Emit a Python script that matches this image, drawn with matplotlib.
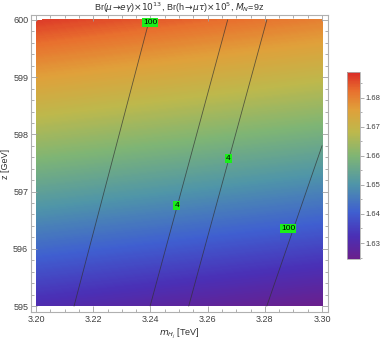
import numpy as np
import matplotlib
matplotlib.use("Agg")
import matplotlib.pyplot as plt
from matplotlib.colors import LinearSegmentedColormap, Normalize
from matplotlib.ticker import MultipleLocator
import matplotlib.cm as cm

# field values read at the corners of the plot region
m_edges = [3.20, 3.30]
z_edges = [595.0, 600.0]
ratio = np.array([[1.631, 1.6245],
                  [1.687, 1.680]])

# contour lines (start / end points)
line_start_m = [3.2133, 3.2399, 3.2534, 3.2807]
line_start_z = [595.0, 595.0, 595.0, 595.0]
line_end_m = [3.2396, 3.2670, 3.2807, 3.3000]
line_end_z = [600.0, 600.0, 600.0, 597.8]

label_text = ["100", "4", "4", "100"]
label_m = [3.2399, 3.2492, 3.2672, 3.2882]
label_z = [599.95, 596.75, 597.58, 596.36]

vmin, vmax = 1.6245, 1.6888

rainbow = LinearSegmentedColormap.from_list("mma_rainbow", [
    (0.00, "#6a1f8c"),
    (0.12, "#4a2fb5"),
    (0.25, "#3f5fd0"),
    (0.40, "#4f95a8"),
    (0.55, "#7fb574"),
    (0.68, "#bdb84c"),
    (0.80, "#e0a03a"),
    (0.90, "#e8702e"),
    (1.00, "#da2a26"),
])

plt.rcParams['font.family'] = ['Liberation Sans', 'DejaVu Sans']
plt.rcParams['mathtext.fontset'] = 'dejavusans'

fig = plt.figure(figsize=(3.82, 3.42), dpi=100)
ax = fig.add_axes([0.0812, 0.0877, 0.7775, 0.8684])

M, Z = np.meshgrid(m_edges, z_edges)
levels = np.linspace(vmin, vmax, 300)
ax.contourf(M, Z, ratio, levels=levels, cmap=rainbow, vmin=vmin, vmax=vmax)

for i in range(len(line_start_m)):
    ax.plot([line_start_m[i], line_end_m[i]], [line_start_z[i], line_end_z[i]],
            color='#303030', lw=0.6, alpha=0.7)

for t, xm, zz in zip(label_text, label_m, label_z):
    ax.text(xm, zz, t, fontsize=6, ha='center', va='center', color='black',
            bbox=dict(boxstyle='square,pad=0.12', fc='#1aee1a', ec='none'))

ax.set_xlim(3.19825, 3.3021)
ax.set_ylim(594.895, 600.087)
ax.yaxis.set_major_locator(MultipleLocator(1))
ax.yaxis.set_minor_locator(MultipleLocator(0.2))
ax.set_xticks([3.20, 3.22, 3.24, 3.26, 3.28, 3.30])
ax.set_xticklabels(["3.20", "3.22", "3.24", "3.26", "3.28", "3.30"])
ax.xaxis.set_minor_locator(MultipleLocator(0.005))
ax.tick_params(which='both', direction='in', top=True, right=True,
               colors='#a0a0a0', labelcolor='#404040', labelsize=6.5, width=0.6)
ax.tick_params(which='major', length=4, pad=2)
ax.tick_params(which='minor', length=2)
for s in ax.spines.values():
    s.set_color('#b0b0b0')
    s.set_linewidth(0.8)

ax.set_xlabel(r'$m_{H_j}$ [TeV]', fontsize=6.5, color='#303030', labelpad=2)
ax.set_ylabel('z [GeV]', fontsize=6.5, color='#303030', labelpad=2)
ax.set_title(r'Br($\mu\!\to\!e\gamma$)$\times10^{13}$, Br(h$\to\!\mu\tau$)$\times10^{5}$, $M_N$=9z',
             fontsize=6.5, color='#303030', pad=3)

cax = fig.add_axes([0.9084, 0.2427, 0.034, 0.5468])
sm = cm.ScalarMappable(norm=Normalize(vmin, vmax), cmap=rainbow)
cb = fig.colorbar(sm, cax=cax)
cb.set_ticks([1.63, 1.64, 1.65, 1.66, 1.67, 1.68])
cb.ax.yaxis.set_minor_locator(MultipleLocator(0.005))
cb.ax.tick_params(which='both', colors='#a0a0a0', labelcolor='#404040', labelsize=5.5,
                  width=0.6, pad=1)
cb.ax.tick_params(which='major', length=3)
cb.ax.tick_params(which='minor', length=1.5)
cb.outline.set_edgecolor('#b0b0b0')
cb.outline.set_linewidth(0.6)

fig.savefig("out.png", dpi=100)
